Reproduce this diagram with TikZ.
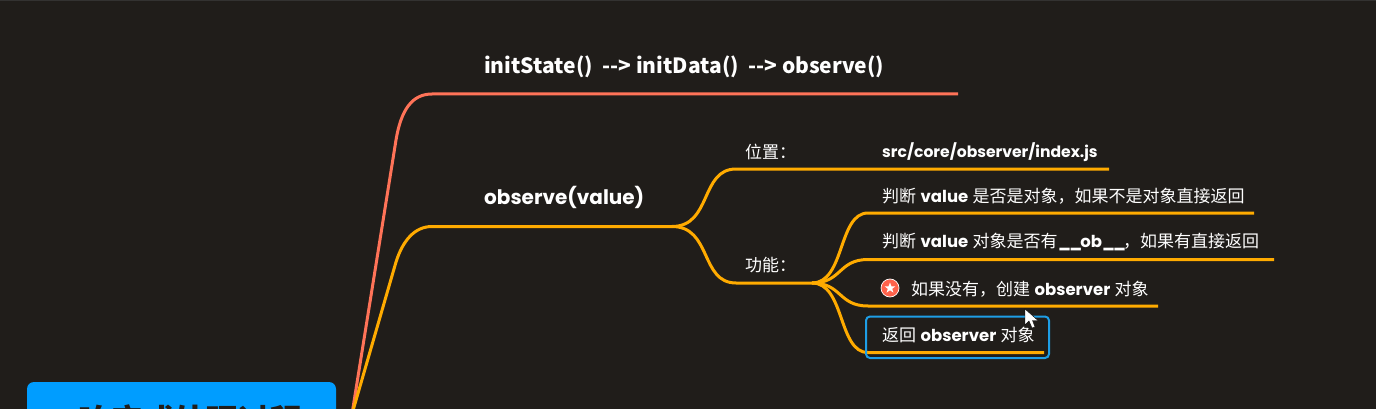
\documentclass[tikz,border=0pt]{standalone}
\usepackage{fontspec}
\setmainfont{Poppins}
\newfontfamily\cjk{Noto Sans CJK SC}
\definecolor{bgc}{HTML}{201D1A}
\definecolor{amb}{HTML}{FFAB00}
\definecolor{cor}{HTML}{FF7358}
\definecolor{sky}{HTML}{009DFF}
\definecolor{sel}{HTML}{1E9EE6}
\definecolor{topbar}{HTML}{333231}
\tikzset{
  x=1pt,y=-1pt,
  amber/.style={draw=amb,line width=3pt,line cap=butt},
  coral/.style={draw=cor,line width=3pt,line cap=butt},
  main/.style={anchor=west,text=white,inner sep=0pt,font=\bfseries\fontsize{20}{24}\selectfont},
  sub/.style={anchor=west,text=white,inner sep=0pt,font=\fontsize{16.5}{20}\selectfont},
}
\newcommand{\zh}[1]{{\cjk\fontsize{17}{20}\selectfont #1}}
\newcommand{\us}{\textbf{\_}\kern-1.8pt}
\begin{document}
\begin{tikzpicture}
\useasboundingbox (0,0) rectangle (1376,409);
\fill[bgc] (0,0) rectangle (1376,409);
\fill[topbar] (0,0) rectangle (1376,1.5);
% root
\begin{scope}
\clip (0,0) rectangle (1376,409);
\fill[sky,rounded corners=7pt] (27,382) rectangle (336,440);
\node[anchor=center,inner sep=0pt,text=bgc,font=\cjk\bfseries\fontsize{32}{36}\selectfont] (root) at (190,420.5) {响应式处理过程};
\coordinate (rootR) at (352,414);
% main branches
\coordinate (a1) at (432,94);
\coordinate (a2) at (958,94);
\coordinate (b1) at (432,226.5);
\coordinate (b2) at (672,226.5);
\draw[coral] (rootR) -- (396,140) .. controls (401,110) and (412,94) .. (a1) -- (a2);
\draw[amber] (rootR) -- (396,262) .. controls (403,240) and (415,226.5) .. (b1) -- (b2);
\end{scope}
\node[main,font=\cjk\bfseries\fontsize{21}{24}\selectfont] (t1) at (484,66.5) {initState()\ \ -{}-> initData()\ \ -{}-> observe()};
\node[main] (t2) at (484,197) {observe(value)};
% level 2
\coordinate (c1) at (736,169);
\coordinate (c2) at (1109,169);
\coordinate (d1) at (736,283);
\coordinate (d2) at (812,283);
\draw[amber] (b2) .. controls (712,226.5) and (700,169) .. (c1) -- (c2);
\draw[amber] (b2) .. controls (712,226.5) and (700,283) .. (d1) -- (d2);
\node[sub] (l1) at (745,152) {\zh{位置：}};
\node[sub] (l2) at (745,265) {\zh{功能：}};
\node[sub,font=\bfseries\fontsize{15.6}{20}\selectfont] (s0) at (882,152) {src/core/observer/index.js};
% level 3
\coordinate (e1) at (868,213);
\coordinate (e2) at (1254,213);
\coordinate (f1) at (868,259.5);
\coordinate (f2) at (1274,259.5);
\coordinate (g1) at (868,306);
\coordinate (g2) at (1158,306);
\coordinate (h1) at (868,352.5);
\coordinate (h2) at (1044,352.5);
\draw[amber] (d2) .. controls (845,283) and (838,213) .. (e1) -- (e2);
\draw[amber] (d2) .. controls (842,283) and (838,259.5) .. (f1) -- (f2);
\draw[amber] (d2) .. controls (842,283) and (838,306) .. (g1) -- (g2);
\draw[amber] (d2) .. controls (845,283) and (838,352.5) .. (h1) -- (h2);
\node[sub] (s1) at (882,196) {\zh{判断} \textbf{value} \zh{是否是对象，如果不是对象直接返回}};
\node[sub] (s2) at (882,242) {\zh{判断} \textbf{value} \zh{对象是否有}\kern0.5pt\us\us\textbf{ob}\us\us\kern-1pt\zh{，如果有直接返回}};
\node[sub] (s3) at (911,289) {\zh{如果没有，创建} \textbf{observer} \zh{对象}};
\node[sub] (s4) at (882,335) {\zh{返回} \textbf{observer} \zh{对象}};
% star badge
\node[circle,fill=cor!85!red,draw=white,line width=.7pt,minimum size=18pt,inner sep=0pt] (badge) at (890,288) {};
\fill[white] (890,282.5) -- (891.4,286.3) -- (895.4,286.3) -- (892.2,288.8) -- (893.4,292.6) -- (890,290.3) -- (886.6,292.6) -- (887.8,288.8) -- (884.6,286.3) -- (888.6,286.3) -- cycle;
% selection
\draw[sel,line width=2pt,rounded corners=4pt] (866,316.5) rectangle (1049,358);
% pointer
\fill[white,draw=black,line width=.4pt] (1025,309) -- (1025,325) -- (1029,321) -- (1032,328) -- (1035,327) -- (1032.5,320.5) -- (1038,320.5) -- cycle;
\end{tikzpicture}
\end{document}
